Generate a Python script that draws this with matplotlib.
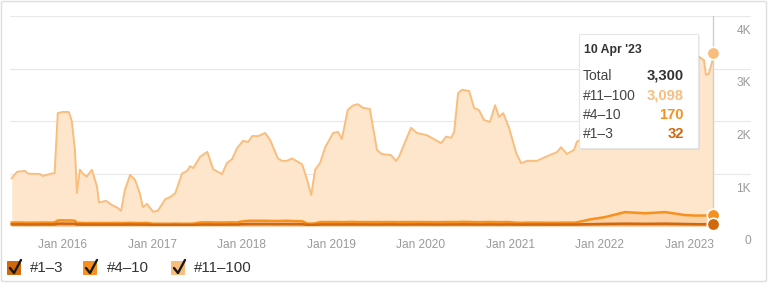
import numpy as np
import pandas as pd
import matplotlib
matplotlib.use("Agg")
import matplotlib.pyplot as plt
from matplotlib.patches import FancyBboxPatch, Rectangle
from matplotlib.lines import Line2D
import matplotlib.transforms as mtransforms

plt.rcParams['font.family'] = ['Liberation Sans', 'DejaVu Sans']

dates = [
    "2015-06-08", "2015-06-30", "2015-08-01", "2015-08-13", "2015-10-01", "2015-10-13", "2015-11-18", "2015-11-30",
    "2015-12-13", "2016-01-03", "2016-01-27", "2016-02-08", "2016-02-21", "2016-02-29", "2016-03-12", "2016-03-24",
    "2016-04-09", "2016-04-30", "2016-05-21", "2016-05-29", "2016-06-27", "2016-07-21", "2016-08-15", "2016-08-27",
    "2016-09-12", "2016-10-03", "2016-10-23", "2016-11-12", "2016-11-24", "2016-12-11", "2017-01-05", "2017-01-25",
    "2017-02-23", "2017-03-15", "2017-04-05", "2017-05-03", "2017-05-24", "2017-06-05", "2017-06-17", "2017-07-16",
    "2017-08-14", "2017-09-07", "2017-10-13", "2017-11-02", "2017-11-23", "2017-12-13", "2018-01-07", "2018-01-27",
    "2018-02-13", "2018-03-09", "2018-04-07", "2018-04-27", "2018-05-29", "2018-06-15", "2018-07-05", "2018-07-26",
    "2018-09-05", "2018-09-25", "2018-10-12", "2018-10-28", "2018-11-17", "2018-12-08", "2019-01-09", "2019-01-29",
    "2019-02-14", "2019-03-10", "2019-03-31", "2019-04-20", "2019-05-11", "2019-06-08", "2019-07-07", "2019-07-27",
    "2019-09-02", "2019-09-23", "2019-10-05", "2019-11-23", "2019-12-17", "2020-01-27", "2020-03-25", "2020-04-14",
    "2020-05-05", "2020-05-17", "2020-06-02", "2020-06-18", "2020-07-17", "2020-08-06", "2020-08-26", "2020-09-16",
    "2020-10-10", "2020-10-31", "2020-11-16", "2020-12-03", "2020-12-27", "2021-01-25", "2021-02-14", "2021-03-11",
    "2021-04-20", "2021-05-31", "2021-07-11", "2021-07-27", "2021-08-20", "2021-09-18", "2021-09-30", "2021-11-22",
    "2022-01-23", "2022-04-14", "2022-07-05", "2022-09-25", "2022-12-15", "2023-01-25", "2023-02-10", "2023-03-02",
    "2023-03-10", "2023-03-22", "2023-04-04", "2023-04-10",
]

rank_1_3 = [
    30, 31, 30, 29, 30, 31, 30, 32,
    45, 46, 44, 45, 42, 28, 29, 28,
    27, 28, 28, 27, 28, 27, 28, 26,
    28, 29, 28, 27, 27, 28, 20, 21,
    20, 21, 22, 20, 21, 20, 21, 28,
    29, 28, 27, 28, 29, 28, 36, 38,
    39, 38, 40, 38, 37, 38, 39, 37,
    36, 22, 20, 23, 30, 31, 30, 31,
    30, 31, 32, 30, 31, 30, 29, 30,
    31, 30, 29, 30, 31, 30, 29, 30,
    31, 30, 31, 32, 31, 30, 29, 30,
    31, 30, 29, 30, 31, 28, 27, 28,
    29, 28, 27, 28, 29, 28, 30, 35,
    40, 45, 42, 45, 38, 34, 34, 33,
    34, 33, 33, 32,
]

rank_4_10 = [
    35, 36, 35, 34, 35, 36, 35, 37,
    60, 62, 61, 60, 58, 30, 31, 30,
    29, 30, 31, 30, 29, 30, 31, 30,
    30, 31, 30, 29, 30, 31, 22, 23,
    22, 21, 23, 22, 22, 23, 22, 40,
    41, 40, 39, 40, 41, 40, 55, 60,
    62, 61, 60, 59, 58, 60, 61, 58,
    55, 25, 24, 26, 45, 44, 46, 45,
    44, 46, 47, 45, 44, 45, 46, 44,
    45, 44, 45, 46, 45, 44, 45, 46,
    45, 46, 45, 47, 46, 45, 44, 45,
    46, 45, 44, 45, 44, 35, 34, 36,
    35, 34, 35, 36, 35, 34, 40, 90,
    130, 220, 200, 220, 170, 165, 165, 166,
    165, 166, 165, 170,
]

rank_11_100 = [
    845, 965, 985, 935, 925, 885, 935, 935,
    2045, 2065, 2065, 1895, 1345, 572, 1012, 942,
    882, 1012, 692, 392, 422, 342, 282, 232,
    632, 912, 822, 562, 302, 362, 228, 248,
    468, 508, 578, 958, 1008, 1098, 1058, 1252,
    1342, 1012, 922, 1132, 1202, 1412, 1532, 1502,
    1612, 1612, 1672, 1542, 1192, 1142, 1142, 1192,
    1082, 835, 545, 1025, 1125, 1425, 1695, 1715,
    1585, 2135, 2215, 2245, 2175, 2155, 1375, 1295,
    1275, 1165, 1245, 1795, 1695, 1655, 1505, 1625,
    1605, 1715, 2455, 2515, 2495, 2175, 2135, 1945,
    1905, 2225, 2005, 2075, 1795, 1327, 1137, 1177,
    1177, 1267, 1347, 1437, 1307, 1387, 1537, 1625,
    1730, 1835, 2058, 2235, 2592, 2901, 3021, 2961,
    2681, 2701, 2921, 3098,
]

y_ticks = [0, 1000, 2000, 3000, 4000]
y_tick_labels = ["0", "1K", "2K", "3K", "4K"]
x_tick_years = [2016, 2017, 2018, 2019, 2020, 2021, 2022, 2023]
legend_labels = ["#1–3", "#4–10", "#11–100"]

tooltip_date = "10 Apr '23"
tooltip_rows = [("Total", "3,300"), ("#11–100", "3,098"), ("#4–10", "170"), ("#1–3", "32")]

c13 = '#d0680c'
c410 = '#f7901e'
c11 = '#f9bd7e'
fill11 = '#fee6cc'
fill410 = '#fcd2a6'
fill13 = '#f0a860'

W, H = 768, 283
fig = plt.figure(figsize=(W / 100, H / 100), dpi=100)
fig.patch.set_facecolor('white')

def fx(px):
    return px / W

def fy(py):
    return 1 - py / H

ax_left, ax_right, ax_top, ax_bot = 10, 751, 16, 226
ax = fig.add_axes([fx(ax_left), fy(ax_bot), fx(ax_right - ax_left), (ax_bot - ax_top) / H])
ax.set_facecolor('none')

x = pd.to_datetime(dates)
a = np.array(rank_1_3, dtype=float)
b = np.array(rank_4_10, dtype=float)
c = np.array(rank_11_100, dtype=float)
s1 = a
s2 = a + b
s3 = a + b + c

ax.fill_between(x, s2, s3, color=fill11, lw=0, zorder=1)
ax.plot(x, s3, color=c11, lw=1.4, zorder=3, solid_joinstyle='round')
ax.fill_between(x, s1, s2, color=fill410, lw=0, zorder=2)
ax.plot(x, s2, color=c410, lw=1.8, zorder=4)
ax.fill_between(x, 0, s1, color=fill13, lw=0, zorder=2)
ax.plot(x, s1, color=c13, lw=1.8, zorder=5)

ax.set_ylim(0, 4000)
ax.set_xlim(pd.Timestamp("2015-06-01"), pd.Timestamp("2023-09-10"))

for t in y_ticks:
    ax.axhline(t, color='#e8e8e8', lw=0.8, zorder=0)

for s in ax.spines.values():
    s.set_visible(False)
ax.set_yticks([])
xt = [pd.Timestamp(f"{yy}-01-01") for yy in x_tick_years]
ax.set_xticks(xt)
ax.set_xticklabels([f"Jan {yy}" for yy in x_tick_years], color='#9a9a9a', fontsize=8.6)
ax.tick_params(axis='x', length=0, pad=9)

# y labels below gridlines on the right
for t, lab in zip(y_ticks, y_tick_labels):
    trans = mtransforms.offset_copy(ax.get_yaxis_transform(), fig=fig, x=0, y=-15, units='dots')
    ax.text(1.0, t, lab, transform=trans, ha='right', va='center', color='#9a9a9a', fontsize=8.6)

# hover line and markers
last = x[-1]
ax.axvline(last, color='#cfcfcf', lw=1.0, zorder=6)
ax.plot([last], [s3[-1]], 'o', ms=9, color=c11, mec='white', mew=1.2, zorder=7, clip_on=False)
ax.plot([last], [s2[-1]], 'o', ms=9, color=c410, mec='white', mew=1.2, zorder=8, clip_on=False)
ax.plot([last], [s1[-1]], 'o', ms=9, color=c13, mec='white', mew=1.2, zorder=9, clip_on=False)

# tooltip
tx0, ty0, tx1, ty1 = 579, 34, 698, 148
fig.patches.append(Rectangle((fx(tx0) + 0.002, fy(ty1) - 0.006), fx(tx1 - tx0), (ty1 - ty0) / H,
                             transform=fig.transFigure, facecolor='#000000', alpha=0.06, lw=0, zorder=10))
fig.patches.append(Rectangle((fx(tx0), fy(ty1)), fx(tx1 - tx0), (ty1 - ty0) / H,
                             transform=fig.transFigure, facecolor='white', edgecolor='#e6e6e6', lw=0.8, zorder=11))
fig.text(fx(584), fy(50), tooltip_date, fontsize=8.8, fontweight='bold', color='#333333', va='center', zorder=12)
row_y = [76, 96, 115, 134]
val_colors = ['#333333', c11, c410, c13]
for (lab, val), ry, vc in zip(tooltip_rows, row_y, val_colors):
    fig.text(fx(583), fy(ry), lab, fontsize=10, color='#444444', va='center', zorder=12)
    fig.text(fx(684), fy(ry), val, fontsize=10.6, color=vc, fontweight='bold', va='center', ha='right', zorder=12)

# legend
box_colors = [c13, c410, c11]
box_x = [7, 83, 171]
label_x = [30, 107, 194]
ly = 268
for bx, lx, bc, lab in zip(box_x, label_x, box_colors, legend_labels):
    fig.patches.append(FancyBboxPatch((fx(bx), fy(ly + 7)), fx(14), 14 / H,
                                      boxstyle='round,pad=0,rounding_size=0.002',
                                      transform=fig.transFigure, facecolor=bc, edgecolor='none', zorder=10))
    fig.lines.append(Line2D([fx(bx + 3), fx(bx + 7), fx(bx + 14)], [fy(ly), fy(ly + 5), fy(ly - 8)],
                            transform=fig.transFigure, color='#1a1a1a', lw=1.7, zorder=11,
                            solid_capstyle='round', solid_joinstyle='round'))
    fig.text(fx(lx), fy(ly), lab, fontsize=10.8, color='#333333', va='center', zorder=12)

# outer frame
fig.patches.append(FancyBboxPatch((fx(1.5), fy(281.5)), fx(765), 280 / H,
                                  boxstyle='round,pad=0,rounding_size=0.004',
                                  transform=fig.transFigure, facecolor='none', edgecolor='#dddddd', lw=1.0, zorder=20))

fig.savefig("out.png", dpi=100, facecolor='white')
